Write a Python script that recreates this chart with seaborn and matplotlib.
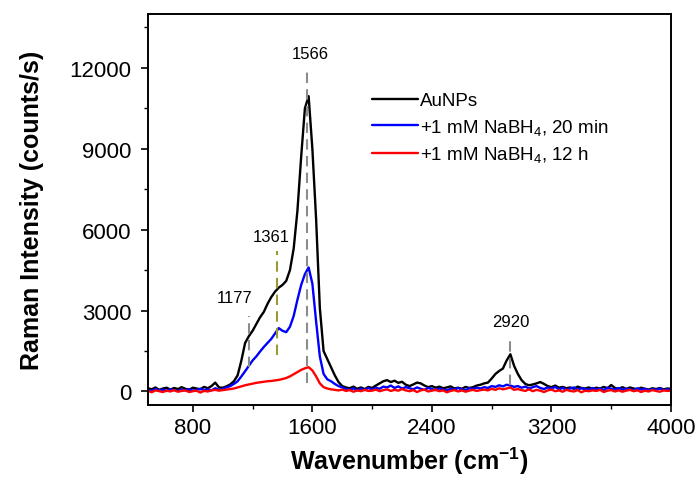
import numpy as np
import pandas as pd
import seaborn as sns
import matplotlib.pyplot as plt
from matplotlib.ticker import MultipleLocator

# wavenumber grid (cm-1), 25 cm-1 steps from 500 to 4000
wavenumber = np.arange(500, 4001, 25)

aunps = [
    120, 80, 150, 60, 110, 140, 70, 130, 90, 160,
    100, 60, 140, 110, 80, 170, 120, 200, 330, 150,
    140, 190, 260, 380, 600, 1150, 1800, 2050, 2250, 2500,
    2750, 2950, 3250, 3500, 3700, 3850, 3950, 4100, 4500, 5300,
    6700, 8700, 10500, 10950, 9000, 6400, 3100, 1500, 1200, 900,
    600, 350, 200, 150, 120, 180, 100, 150, 90, 170,
    130, 220, 300, 380, 420, 350, 400, 320, 360, 250,
    200, 260, 330, 300, 220, 160, 200, 140, 180, 120,
    150, 190, 110, 140, 100, 170, 130, 160, 220, 250,
    300, 330, 480, 650, 760, 850, 1150, 1380, 950, 650,
    420, 280, 230, 260, 300, 350, 280, 200, 160, 220,
    140, 170, 120, 150, 100, 180, 130, 110, 150, 90,
    140, 110, 170, 120, 240, 130, 100, 160, 90, 150,
    110, 80, 140, 100, 70, 120, 90, 130, 80, 110,
    100,
]

nabh4_20min = [
    60, 20, 90, 40, 70, 30, 80, 50, 20, 70,
    40, 90, 30, 60, 100, 50, 80, 40, 120, 60,
    90, 150, 200, 280, 380, 560, 750, 950, 1150, 1300,
    1480, 1650, 1800, 1950, 2150, 2350, 2250, 2200, 2400, 2800,
    3400, 3950, 4350, 4600, 4000, 2600, 1300, 650, 450, 380,
    280, 200, 150, 90, 60, 120, 40, 100, 50, 130,
    70, 140, 100, 180, 150, 220, 130, 190, 110, 160,
    120, 80, 150, 100, 60, 130, 90, 50, 110, 70,
    40, 100, 60, 130, 80, 50, 120, 90, 140, 110,
    160, 130, 200, 170, 230, 190, 250, 220, 170, 200,
    140, 180, 110, 160, 200, 130, 90, 150, 110, 170,
    80, 130, 60, 110, 150, 70, 120, 90, 60, 130,
    80, 110, 50, 140, 100, 70, 130, 60, 110, 80,
    50, 120, 70, 100, 40, 90, 60, 110, 50, 80,
    60,
]

nabh4_12h = [
    20, -30, 40, 10, -20, 30, 0, 50, -10, 20,
    40, -20, 10, 30, -40, 20, 0, 40, 60, 30,
    50, 70, 90, 110, 150, 190, 230, 260, 290, 320,
    340, 360, 380, 390, 410, 430, 460, 500, 560, 640,
    720, 800, 860, 900, 780, 560, 300, 160, 110, 80,
    60, 40, 70, 20, 50, -10, 40, 10, 60, 20,
    30, 70, 10, 50, 80, 20, 60, 30, 90, 40,
    10, 50, -20, 40, 70, 0, 30, 60, 10, 40,
    -30, 20, 50, 0, 40, -10, 30, 60, 20, 50,
    70, 40, 100, 60, 120, 80, 110, 150, 60, 90,
    50, 20, 80, 10, 60, 30, -20, 40, 70, 10,
    40, -10, 60, 20, 0, 50, -30, 30, 10, 40,
    20, 60, -20, 30, 50, 0, 40, -10, 30, 60,
    10, 40, -20, 30, 0, 50, 20, -10, 40, 20,
    30,
]

labels = ['AuNPs', '+1 mM NaBH$_4$, 20 min', '+1 mM NaBH$_4$, 12 h']
colors = ['#000000', '#0000ff', '#ff0000']

# peak markers: position, top/bottom of dashed line, label position
peaks = [1177, 1361, 1566, 2920]
peak_top = [2800, 5200, 11900, 2050]
peak_bottom = [900, 1350, 300, 250]
peak_colors = ['#8c8c8c', '#9a9a30', '#8c8c8c', '#8c8c8c']
peak_label_x = [1080, 1322, 1587, 2929]
peak_label_y = [3500, 5750, 12550, 2580]

df = pd.concat([
    pd.DataFrame({'wn': wavenumber, 'I': vals, 'sample': lab})
    for vals, lab in zip([aunps, nabh4_20min, nabh4_12h], labels)
])

sns.set_style('ticks')
plt.rcParams['font.family'] = ['Liberation Sans', 'DejaVu Sans']
plt.rcParams['mathtext.fontset'] = 'custom'
plt.rcParams['mathtext.rm'] = 'Liberation Sans'
plt.rcParams['mathtext.it'] = 'Liberation Sans:italic'
plt.rcParams['mathtext.bf'] = 'Liberation Sans:bold'
plt.rcParams['text.color'] = 'black'
plt.rcParams['axes.labelcolor'] = 'black'

fig = plt.figure(figsize=(7, 4.81), dpi=100)
ax = fig.add_axes([0.2114, 0.156, 0.7472, 0.813])

sns.lineplot(data=df, x='wn', y='I', hue='sample', palette=colors,
             estimator=None, sort=False, linewidth=1.7, ax=ax)

for x, top, bot, c in zip(peaks, peak_top, peak_bottom, peak_colors):
    ax.vlines(x, bot, top, colors=c, linestyles=(0, (5, 3)), linewidth=1.5, zorder=5)
for x, y, p in zip(peak_label_x, peak_label_y, peaks):
    ax.text(x, y, str(p), ha='center', va='center', fontsize=12, color='black')

ax.set_xlim(500, 4000)
ax.set_ylim(-500, 14000)
ax.xaxis.set_major_locator(MultipleLocator(800))
ax.xaxis.set_minor_locator(MultipleLocator(400))
ax.yaxis.set_major_locator(MultipleLocator(3000))
ax.yaxis.set_minor_locator(MultipleLocator(1500))
ax.tick_params(which='major', direction='out', length=5, width=1.2, labelsize=16, colors='black')
ax.tick_params(axis='y', which='major', pad=7)
ax.tick_params(which='minor', direction='out', length=3, width=1.0, colors='black')
for s in ax.spines.values():
    s.set_visible(True)
    s.set_linewidth(1.4)
    s.set_color('black')

ax.set_xlabel(r'Wavenumber (cm$\mathbf{^{-1}}$)', fontsize=18, fontweight='bold', labelpad=5)
ax.set_ylabel('Raman Intensity (counts/s)', fontsize=18, fontweight='bold', labelpad=18)

leg = ax.legend(frameon=False, loc='upper left', bbox_to_anchor=(0.428, 0.80),
                fontsize=13.5, handlelength=2.45, handletextpad=0.1, labelspacing=0.4,
                borderpad=0, borderaxespad=0)
leg.set_title(None)
for t in leg.get_texts():
    t.set_color('black')

fig.savefig('out.png', dpi=100)
